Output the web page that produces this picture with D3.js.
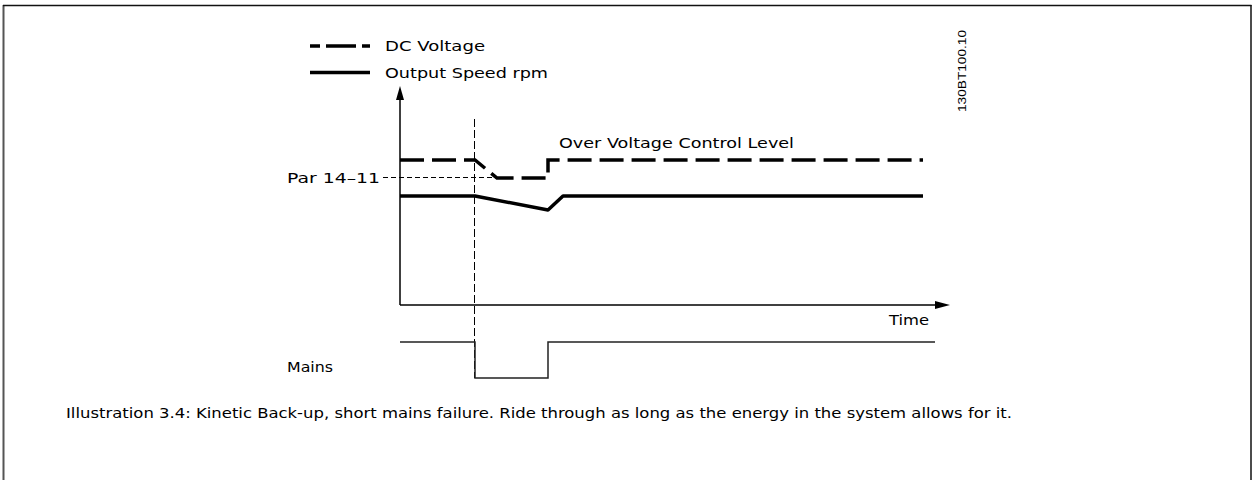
<!DOCTYPE html>
<html>
<head>
<meta charset="utf-8">
<script src="https://cdn.jsdelivr.net/npm/d3@7"></script>
<style>
  html, body { margin: 0; padding: 0; background: #fff; }
  svg { display: block; }
</style>
</head>
<body>
<svg id="chart" width="1252" height="480"></svg>
<script>
// Time points (arbitrary units along the Time axis)
const tAxisEnd = 550;
const tFail = 75;          // mains failure
const tRestore = 148;      // mains restored
const tSpeedBack = 163;    // speed back to nominal
const tEnd = 523;          // end of traces
const tMainsEnd = 535;

// Levels (arbitrary units on the vertical axis)
const axisTop = 219;
const dcNominal = 145;     // over voltage control level
const par1411 = 127;       // Par 14-11 level
const speedNominal = 109;
const speedDip = 95;

// Series
const dcVoltage = [
  { t: 0, v: dcNominal },
  { t: tFail, v: dcNominal },
  { t: 97, v: par1411 },
  { t: tRestore, v: par1411 },
  { t: tRestore, v: dcNominal },
  { t: tEnd, v: dcNominal }
];
const outputSpeed = [
  { t: 0, v: speedNominal },
  { t: tFail, v: speedNominal },
  { t: tRestore, v: speedDip },
  { t: tSpeedBack, v: speedNominal },
  { t: tEnd, v: speedNominal }
];
const mains = [
  { t: 0, v: 1 },
  { t: tFail, v: 1 },
  { t: tFail, v: 0 },
  { t: tRestore, v: 0 },
  { t: tRestore, v: 1 },
  { t: tMainsEnd, v: 1 }
];

const legendItems = ["DC Voltage", "Output Speed rpm"];
const caption = "Illustration 3.4: Kinetic Back-up, short mains failure. Ride through as long as the energy in the system allows for it.";

const svg = d3.select("#chart");
const techFont = "'DejaVu Sans', sans-serif";

const x = d3.scaleLinear().domain([0, tAxisEnd]).range([400, 950]);
const y = d3.scaleLinear().domain([0, axisTop]).range([305, 86]);
const yMains = d3.scaleLinear().domain([0, 1]).range([378, 342]);

// frame
svg.append("line").attr("x1", 3.5).attr("x2", 3.5).attr("y1", 5).attr("y2", 480)
  .attr("stroke", "#555").attr("stroke-width", 2);
svg.append("line").attr("x1", 3).attr("x2", 1251.5).attr("y1", 5.5).attr("y2", 5.5)
  .attr("stroke", "#111").attr("stroke-width", 1.5);
svg.append("line").attr("x1", 1251).attr("x2", 1251).attr("y1", 5).attr("y2", 480)
  .attr("stroke", "#111").attr("stroke-width", 1.5);

// axes
svg.append("line").attr("x1", x(0)).attr("x2", x(0)).attr("y1", y(0)).attr("y2", y(axisTop) + 12)
  .attr("stroke", "#000").attr("stroke-width", 1.5);
svg.append("path")
  .attr("d", `M${x(0)},${y(axisTop)} L${x(0) - 4},${y(axisTop) + 14} L${x(0) + 4},${y(axisTop) + 14} Z`)
  .attr("fill", "#000");
svg.append("line").attr("x1", x(0)).attr("x2", x(tAxisEnd) - 12).attr("y1", y(0)).attr("y2", y(0))
  .attr("stroke", "#000").attr("stroke-width", 1.5);
svg.append("path")
  .attr("d", `M${x(tAxisEnd)},${y(0)} L${x(tAxisEnd) - 15},${y(0) - 4} L${x(tAxisEnd) - 15},${y(0) + 4} Z`)
  .attr("fill", "#000");

const line = d3.line().x(d => x(d.t)).y(d => y(d.v));
const mainsLine = d3.line().x(d => x(d.t)).y(d => yMains(d.v));

// mains failure marker (half-pixel offset keeps the hairline crisp)
svg.append("line").attr("x1", x(tFail) - 0.5).attr("x2", x(tFail) - 0.5)
  .attr("y1", 119).attr("y2", yMains(0))
  .attr("stroke", "#000").attr("stroke-width", 1).attr("stroke-dasharray", "8,3");

// Par 14-11 reference
svg.append("line").attr("x1", 383).attr("x2", x(97))
  .attr("y1", y(par1411) - 0.5).attr("y2", y(par1411) - 0.5)
  .attr("stroke", "#000").attr("stroke-width", 1).attr("stroke-dasharray", "5,3");

// traces
svg.append("path").datum(dcVoltage).attr("d", line)
  .attr("fill", "none").attr("stroke", "#000").attr("stroke-width", 3.5)
  .attr("stroke-dasharray", "24,8");
svg.append("path").datum(outputSpeed).attr("d", line)
  .attr("fill", "none").attr("stroke", "#000").attr("stroke-width", 3.5)
  .attr("stroke-linejoin", "round");
svg.append("path").datum(mains).attr("d", mainsLine)
  .attr("fill", "none").attr("stroke", "#222").attr("stroke-width", 1.5);

// legend
const leg = svg.append("g");
leg.append("line").attr("x1", 310).attr("x2", 370).attr("y1", 46).attr("y2", 46)
  .attr("stroke", "#000").attr("stroke-width", 3.5).attr("stroke-dasharray", "10,6,30,6,10");
leg.append("line").attr("x1", 310).attr("x2", 370).attr("y1", 72.5).attr("y2", 72.5)
  .attr("stroke", "#000").attr("stroke-width", 3.5);
const legWidths = [100, 163];
legendItems.forEach((s, i) => {
  leg.append("text").attr("x", 385).attr("y", 51 + i * 26.5)
    .attr("font-family", techFont).attr("font-size", 14)
    .attr("textLength", legWidths[i]).attr("lengthAdjust", "spacingAndGlyphs")
    .text(s);
});

// labels
function label(txt, xx, yy, len) {
  return svg.append("text").attr("x", xx).attr("y", yy)
    .attr("font-family", techFont).attr("font-size", 14)
    .attr("textLength", len).attr("lengthAdjust", "spacingAndGlyphs").text(txt);
}
label("Over Voltage Control Level", 559, 148, 235);
label("Par 14\u201311", 287, 183, 93);
label("Time", 889, 325, 40);
label("Mains", 287, 372, 46);

svg.append("text")
  .attr("transform", "translate(966,112) rotate(-90)")
  .attr("font-family", "'Liberation Sans', Arial, sans-serif").attr("font-size", 10)
  .attr("textLength", 82).attr("lengthAdjust", "spacingAndGlyphs")
  .text("130BT100.10");

svg.append("text").attr("x", 66).attr("y", 418)
  .attr("font-family", "'DejaVu Sans', Verdana, sans-serif").attr("font-size", 14.5)
  .attr("textLength", 946).attr("lengthAdjust", "spacingAndGlyphs")
  .text(caption);
</script>
</body>
</html>
